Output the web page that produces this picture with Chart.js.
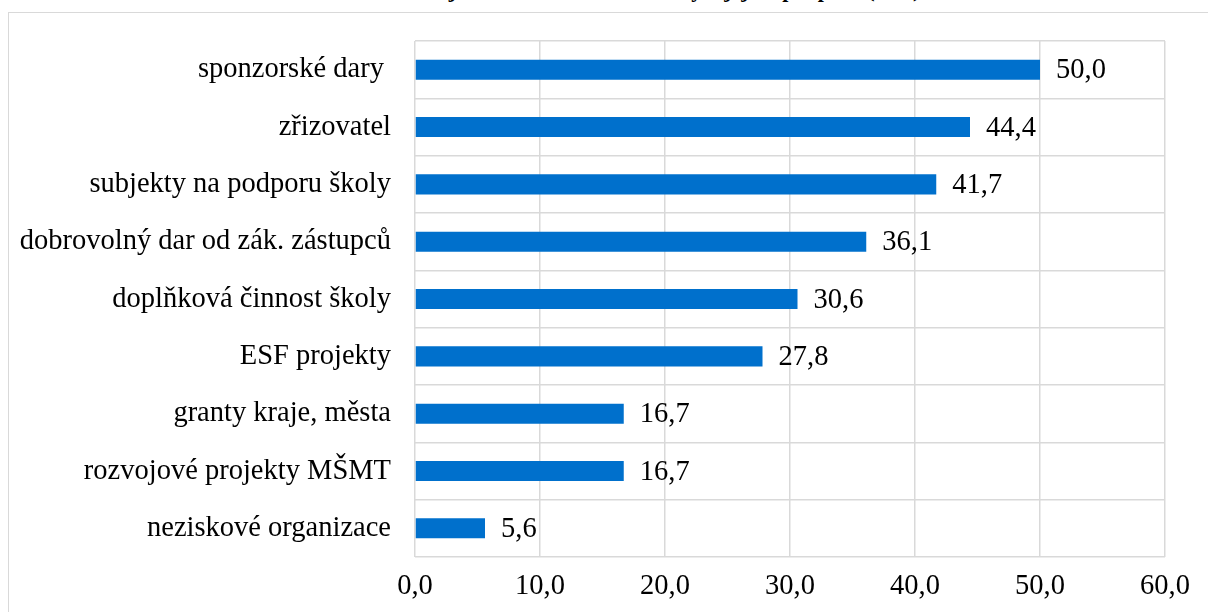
<!DOCTYPE html>
<html>
<head>
<meta charset="utf-8">
<script src="https://cdn.jsdelivr.net/npm/chart.js@4/dist/chart.umd.min.js"></script>
<style>
  html, body { margin: 0; padding: 0; background: #fff; overflow: hidden; }
  #frame {
    position: absolute; left: 8px; top: 12px; width: 1240px; height: 640px;
    border: 1.5px solid #d9d9d9; box-sizing: border-box;
  }
  #title {
    position: absolute; left: 0; top: -20px; width: 1188px; text-align: center;
    font: bold 22px "Liberation Serif", serif; line-height: 20px; color: #000;
  }
  #wrap { position: absolute; left: 0; top: 0; width: 1208px; height: 612px; }
</style>
</head>
<body>
<div id="frame"></div>
<div id="title">Graf 12: Další zdroje financování aktivit školy a jejich podpora (v %)</div>
<div id="wrap"><canvas id="c"></canvas></div>
<script>
// kategorie a hodnoty (%)
const categories = [
  'sponzorské dary ',
  'zřizovatel',
  'subjekty na podporu školy',
  'dobrovolný dar od zák. zástupců',
  'doplňková činnost školy',
  'ESF projekty',
  'granty kraje, města',
  'rozvojové projekty MŠMT',
  'neziskové organizace',
];
const values = [50.0, 44.4, 41.7, 36.1, 30.6, 27.8, 16.7, 16.7, 5.6];
const xTicks = [0, 10, 20, 30, 40, 50, 60];

const FONT = '"Liberation Serif", "Times New Roman", serif';
const SIZE = 28.5;
const fmt = (v) => v.toFixed(1).replace('.', ',');

// popisky hodnot vpravo od sloupců
const valueLabels = {
  id: 'valueLabels',
  afterDatasetsDraw(chart) {
    const { ctx } = chart;
    const meta = chart.getDatasetMeta(0);
    ctx.save();
    ctx.font = `${SIZE}px ${FONT}`;
    ctx.fillStyle = '#000';
    ctx.textAlign = 'left';
    ctx.textBaseline = 'middle';
    meta.data.forEach((bar, i) => {
      ctx.fillText(fmt(values[i]), bar.x + 16, bar.y + 1);
    });
    ctx.restore();
  },
};

new Chart(document.getElementById('c'), {
  type: 'bar',
  plugins: [valueLabels],
  data: {
    labels: categories,
    datasets: [{
      data: values,
      backgroundColor: '#0070cc',
      borderWidth: 0,
      categoryPercentage: 1,
      barPercentage: 0.35,
    }],
  },
  options: {
    indexAxis: 'y',
    responsive: true,
    maintainAspectRatio: false,
    animation: false,
    layout: { padding: { top: 41, right: 43, left: 0, bottom: 0 } },
    plugins: { legend: { display: false }, tooltip: { enabled: false } },
    scales: {
      x: {
        min: 0,
        max: 60,
        afterBuildTicks: (axis) => { axis.ticks = xTicks.map((v) => ({ value: v })); },
        afterFit: (axis) => { axis.height = 55; },
        border: { display: false },
        grid: { color: '#d9d9d9', lineWidth: 1.5, drawTicks: false },
        ticks: { color: '#000', font: { family: FONT, size: SIZE }, padding: 12, callback: (v) => fmt(v) },
      },
      y: {
        afterFit: (axis) => { axis.width = 415; },
        border: { display: false },
        grid: { color: '#d9d9d9', lineWidth: 1.5, drawTicks: false },
        ticks: { color: '#000', font: { family: FONT, size: SIZE }, padding: 24 },
      },
    },
  },
});
</script>
</body>
</html>
